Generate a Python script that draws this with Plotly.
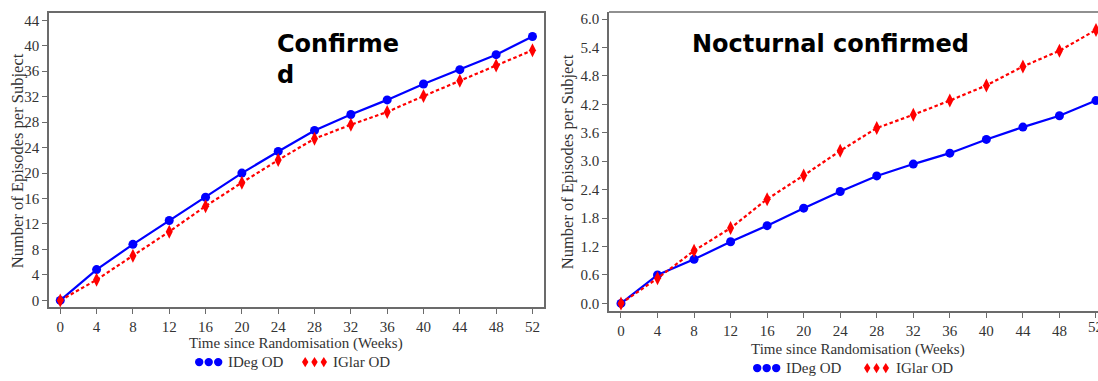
import plotly.graph_objects as go

# Canvas size in pixels
W, H = 1098, 381

# ---- data -------------------------------------------------------------
weeks = [0, 4, 8, 12, 16, 20, 24, 28, 32, 36, 40, 44, 48, 52]

confirmed_ideg = [0.0, 4.84, 8.8, 12.55, 16.2, 20.0, 23.4, 26.7, 29.2, 31.5, 34.0, 36.25, 38.6, 41.45]
confirmed_iglar = [0.0, 3.23, 7.03, 10.8, 14.8, 18.5, 22.05, 25.4, 27.6, 29.6, 32.1, 34.5, 36.9, 39.3]

nocturnal_ideg = [0.0, 0.60, 0.93, 1.30, 1.64, 2.01, 2.36, 2.69, 2.94, 3.17, 3.46, 3.72, 3.96, 4.28]
nocturnal_iglar = [0.0, 0.53, 1.11, 1.59, 2.20, 2.70, 3.22, 3.70, 3.98, 4.28, 4.60, 5.00, 5.33, 5.77]

confirmed_yticks = [0, 4, 8, 12, 16, 20, 24, 28, 32, 36, 40, 44]
nocturnal_yticks = [0.0, 0.6, 1.2, 1.8, 2.4, 3.0, 3.6, 4.2, 4.8, 5.4, 6.0]

series_names = ["IDeg OD", "IGlar OD"]
panel_titles = ["Confirme<br>d", "Nocturnal confirmed"]
x_title = "Time since Randomisation (Weeks)"
y_title = "Number of Episodes per Subject"

# ---- styling ----------------------------------------------------------
BLUE = "#0000FF"
RED = "#FF0000"
AXIS = "#6b6b6b"
TEXT = "#333333"
SERIF = "Liberation Serif, Times New Roman, serif"
SANS_BOLD = "DejaVu Sans, Verdana, sans-serif"


def px(x):
    return x / W


def py(y):
    return 1 - y / H


fig = go.Figure()

panels = [
    ("x", "y", confirmed_ideg, confirmed_iglar),
    ("x2", "y2", nocturnal_ideg, nocturnal_iglar),
]
for xa, ya, ideg, iglar in panels:
    fig.add_trace(go.Scatter(
        x=weeks, y=ideg, xaxis=xa, yaxis=ya, mode="lines+markers",
        name=series_names[0], showlegend=False,
        line=dict(color=BLUE, width=2.2),
        marker=dict(symbol="circle", size=9, color=BLUE),
    ))
    fig.add_trace(go.Scatter(
        x=weeks, y=iglar, xaxis=xa, yaxis=ya, mode="lines+markers",
        name=series_names[1], showlegend=False,
        line=dict(color=RED, width=2.2, dash="3.5px,2.5px"),
        marker=dict(symbol="diamond-tall", size=10, color=RED),
    ))

tickfont = dict(family=SERIF, size=15, color=TEXT)
common_x = dict(tickmode="array", tickvals=weeks, ticks="outside", ticklen=5,
                tickcolor=AXIS, showline=True, linecolor=AXIS, linewidth=1.5,
                showgrid=False, zeroline=False, tickfont=tickfont)
common_y = dict(tickmode="array", ticks="outside", ticklen=5, tickcolor=AXIS,
                showline=True, linecolor=AXIS, linewidth=1.5,
                showgrid=False, zeroline=False, tickfont=tickfont)

fig.update_layout(
    width=W, height=H,
    margin=dict(l=0, r=0, t=0, b=0),
    paper_bgcolor="white", plot_bgcolor="white",
    xaxis=dict(common_x, domain=[px(49), px(544)], range=[-1.24, 53.27],
               anchor="y", mirror=True),
    yaxis=dict(common_y, domain=[py(308), py(12)], range=[-1.1, 45.16],
               tickvals=confirmed_yticks, anchor="x", mirror=True),
    xaxis2=dict(common_x, domain=[px(609), 1.0], range=[-1.31, 52.22],
                anchor="y2"),
    yaxis2=dict(common_y, domain=[py(312), py(11)], range=[-0.168, 6.15],
                tickvals=nocturnal_yticks, tickformat=".1f", anchor="x2"),
)

# top frame line of the right panel (its right edge runs off the canvas)
fig.add_shape(type="line", xref="x2 domain", yref="y2 domain",
              x0=0, x1=1, y0=1, y1=1, line=dict(color=AXIS, width=1.5))

ann = []
# last week label of the right panel, cut by the canvas edge
ann.append(dict(text=str(weeks[-1]), x=weeks[-1], xref="x2", y=py(328), yref="paper",
                xanchor="center", yanchor="middle", showarrow=False, font=tickfont))

# panel titles
ann.append(dict(text=panel_titles[0], x=px(275), y=py(27), xref="paper", yref="paper",
                xanchor="left", yanchor="top", align="left", showarrow=False,
                font=dict(family=SANS_BOLD, size=24, color="black", weight="bold")))
ann.append(dict(text=panel_titles[1], x=px(690), y=py(27), xref="paper", yref="paper",
                xanchor="left", yanchor="top", align="left", showarrow=False,
                font=dict(family=SANS_BOLD, size=24, color="black", weight="bold")))

# axis titles
for cx, cy in [(296, 344), (858, 350)]:
    ann.append(dict(text=x_title, x=px(cx), y=py(cy), xref="paper", yref="paper",
                    xanchor="center", yanchor="middle", showarrow=False,
                    font=dict(family=SERIF, size=15, color=TEXT)))
for cx, cy in [(17, 161), (567, 162)]:
    ann.append(dict(text=y_title, x=px(cx), y=py(cy), xref="paper", yref="paper",
                    xanchor="center", yanchor="middle", showarrow=False, textangle=-90,
                    font=dict(family=SERIF, size=16.5, color=TEXT)))

# legend rows beneath each panel: three symbol glyphs followed by the series name
legend_rows = [
    # dot-start, text1-left, diamond-start, text2-left, row centre y
    (195, 226, 302, 331, 363),
    (753, 784, 864, 894, 369),
]
shapes = []
for dot_x, t1_x, dia_x, t2_x, ly in legend_rows:
    for k in range(3):
        cx = dot_x + 4.2 + 9.5 * k
        shapes.append(dict(type="circle", xref="paper", yref="paper",
                           x0=px(cx - 4.2), x1=px(cx + 4.2),
                           y0=py(ly + 4.2), y1=py(ly - 4.2),
                           fillcolor=BLUE, line=dict(width=0)))
        dx = dia_x + 3.2 + 9.3 * k
        path = "M {:.5f},{:.5f} L {:.5f},{:.5f} L {:.5f},{:.5f} L {:.5f},{:.5f} Z".format(
            px(dx), py(ly - 5.2), px(dx + 3.2), py(ly),
            px(dx), py(ly + 5.2), px(dx - 3.2), py(ly))
        shapes.append(dict(type="path", xref="paper", yref="paper", path=path,
                           fillcolor=RED, line=dict(width=0)))
    ann.append(dict(text=series_names[0], x=px(t1_x), y=py(ly), xref="paper", yref="paper",
                    xanchor="left", yanchor="middle", showarrow=False,
                    font=dict(family=SERIF, size=15, color=TEXT)))
    ann.append(dict(text=series_names[1], x=px(t2_x), y=py(ly), xref="paper", yref="paper",
                    xanchor="left", yanchor="middle", showarrow=False,
                    font=dict(family=SERIF, size=15, color=TEXT)))

for s in shapes:
    fig.add_shape(s)
fig.update_layout(annotations=ann)

fig.write_html("out.html")
